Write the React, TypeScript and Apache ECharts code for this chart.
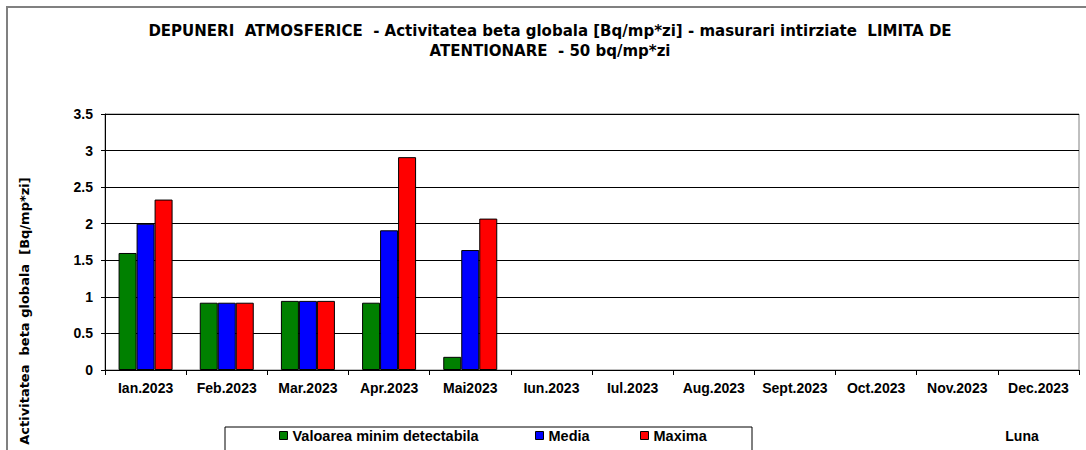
import React, { useEffect, useRef } from "react";
import * as echarts from "echarts";

const categories = ["Ian.2023", "Feb.2023", "Mar.2023", "Apr.2023", "Mai2023", "Iun.2023", "Iul.2023", "Aug.2023", "Sept.2023", "Oct.2023", "Nov.2023", "Dec.2023"];
const minDetectabila = [1.6, 0.92, 0.945, 0.92, 0.18, null, null, null, null, null, null, null];
const media = [2.0, 0.92, 0.945, 1.91, 1.64, null, null, null, null, null, null, null];
const maxima = [2.33, 0.92, 0.945, 2.91, 2.07, null, null, null, null, null, null, null];
const seriesNames = ["Valoarea minim detectabila", "Media", "Maxima"];
const seriesColors = ["#008000", "#0000FF", "#FF0000"];
const titleText = "DEPUNERI  ATMOSFERICE  - Activitatea beta globala [Bq/mp*zi] - masurari intirziate  LIMITA DE\nATENTIONARE  - 50 bq/mp*zi";
const yTitle = "Activitatea  beta globala  [Bq/mp*zi]";
const xTitle = "Luna";

const FONT = "'Liberation Sans', Arial, sans-serif";
const WIDE = "'DejaVu Sans', 'Liberation Sans', sans-serif";

export default function App() {
  const ref = useRef<HTMLDivElement>(null);
  useEffect(() => {
    if (!ref.current) return;
    const chart = echarts.init(ref.current, null, { renderer: "svg" });
    const data = [minDetectabila, media, maxima];
    const legendX = [279, 535, 640];
    chart.setOption({
      animation: false,
      backgroundColor: "#fff",
      textStyle: { fontFamily: FONT },
      grid: { left: 105, right: 7, top: 114, bottom: 80, show: true, borderColor: "#808080", borderWidth: 1, containLabel: false },
      xAxis: {
        type: "category",
        data: categories,
        axisLine: { show: true, lineStyle: { color: "#000", width: 1 } },
        axisTick: { show: true, alignWithLabel: false, length: 5, lineStyle: { color: "#000" } },
        axisLabel: { fontFamily: FONT, fontWeight: "bold", fontSize: 14, color: "#000", margin: 11, interval: 0 },
        splitLine: { show: false },
      },
      yAxis: {
        type: "value",
        min: 0,
        max: 3.5,
        interval: 0.5,
        axisLine: { show: true, lineStyle: { color: "#000", width: 1 } },
        axisTick: { show: true, length: 4, lineStyle: { color: "#000" } },
        axisLabel: { fontFamily: FONT, fontWeight: "bold", fontSize: 14, color: "#000", margin: 12 },
        splitLine: { show: true, lineStyle: { color: "#000", width: 1 } },
      },
      legend: seriesNames.map((n, i) => ({
        data: [n],
        left: legendX[i],
        top: 428,
        z: 10,
        itemWidth: 8,
        itemHeight: 8,
        icon: "rect",
        padding: 0,
        textStyle: { fontFamily: FONT, fontWeight: "bold", fontSize: 14.5, color: "#000" },
        itemStyle: { borderColor: "#000", borderWidth: 1 },
      })),
      series: seriesNames.map((n, i) => ({
        name: n,
        type: "bar",
        data: data[i],
        barWidth: 18,
        barGap: "0%",
        itemStyle: { color: seriesColors[i], borderColor: "#000", borderWidth: 1 },
      })),
      graphic: [
        {
          type: "rect",
          z: 0,
          shape: { x: 7, y: 7, width: 1200, height: 600 },
          style: { fill: "none", stroke: "#808080", lineWidth: 2 },
          silent: true,
        },
        {
          type: "rect",
          z: 0,
          shape: { x: 225, y: 427, width: 527, height: 100 },
          style: { fill: "#fff", stroke: "#000", lineWidth: 1 },
          silent: true,
        },
        {
          type: "text",
          x: 550,
          y: 41,
          style: {
            text: titleText,
            fontFamily: WIDE,
            fontWeight: "bold",
            fontSize: 15,
            lineHeight: 20,
            fill: "#000",
            align: "center",
            verticalAlign: "middle",
          },
        },
        {
          type: "text",
          x: 24,
          y: 311,
          rotation: Math.PI / 2,
          style: {
            text: yTitle,
            fontFamily: WIDE,
            fontWeight: "bold",
            fontSize: 13,
            fill: "#000",
            align: "center",
            verticalAlign: "middle",
          },
        },
        {
          type: "text",
          x: 1022,
          y: 436,
          style: {
            text: xTitle,
            fontFamily: FONT,
            fontWeight: "bold",
            fontSize: 14,
            fill: "#000",
            align: "center",
            verticalAlign: "middle",
          },
        },
      ],
    });
    return () => chart.dispose();
  }, []);
  return <div ref={ref} style={{ position: "absolute", left: 0, top: 0, width: 1086, height: 450 }} />;
}
